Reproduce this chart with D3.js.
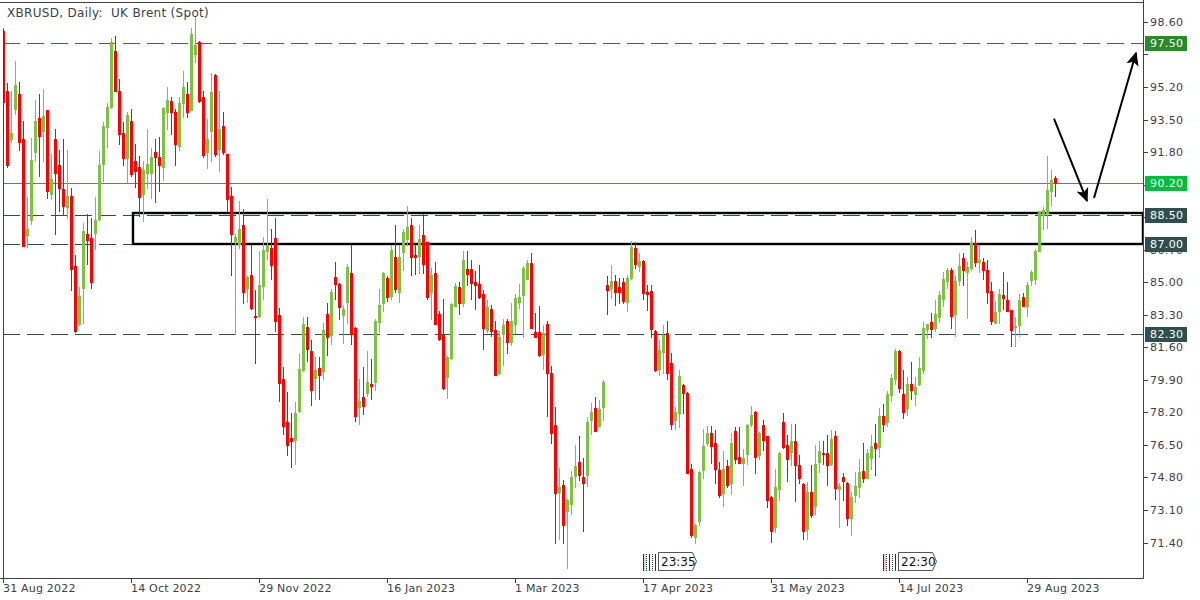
<!DOCTYPE html>
<html><head><meta charset="utf-8">
<script src="https://cdn.jsdelivr.net/npm/d3@7"></script>
<style>
html,body{margin:0;padding:0;background:#fff;}
svg{display:block;font-family:"DejaVu Sans",sans-serif;}
</style></head>
<body>
<svg id="c" width="1200" height="600"></svg>
<script>
// ---------- data ----------
const title = "XBRUSD, Daily:  UK Brent (Spot)";
const opens = [98.14,95.0,92.48,94.07,94.85,92.5,87.48,88.24,91.82,93.6,92.92,94.0,89.61,92.5,91.1,89.87,88.93,89.49,85.85,82.8,84.71,87.5,87.3,87.58,88.28,91.17,93.12,94.15,97.06,95.0,
92.82,91.48,93.4,91.32,91.0,89.63,90.69,90.69,91.8,91.54,91.0,93.9,94.47,93.9,92.12,94.35,94.81,93.99,96.9,97.56,94.67,91.82,92.92,95.85,91.96,93.18,91.72,89.53,87.14,86.98,
87.98,84.71,85.39,83.26,83.24,84.79,86.64,86.78,87.3,83.3,79.97,77.68,76.88,76.78,78.28,80.41,82.66,81.4,80.01,80.53,80.37,83.36,82.26,85.29,84.91,83.3,83.95,85.49,82.62,78.48,
79.03,79.23,79.67,79.77,82.9,83.9,85.21,84.29,86.3,84.51,86.58,87.24,87.98,86.44,86.38,87.48,87.1,84.49,85.49,83.36,82.26,80.03,81.03,83.76,84.75,83.92,85.69,85.69,84.99,84.91,
84.39,82.52,83.6,82.52,80.27,82.32,82.96,81.86,82.8,83.99,84.35,85.19,86.0,82.4,82.4,81.27,82.8,80.27,77.54,74.03,74.43,73.04,73.44,74.89,75.63,74.83,74.95,77.78,78.42,77.48,
78.48,84.85,84.71,85.05,84.75,84.99,83.99,85.21,86.78,85.85,86.1,84.51,84.55,82.46,80.47,81.37,82.36,80.77,77.78,78.18,79.61,79.21,75.23,71.7,72.5,75.19,76.58,77.12,76.58,75.19,
73.99,75.39,74.49,77.22,75.89,75.55,76.03,77.62,78.22,75.99,77.52,76.98,73.8,72.2,74.19,77.68,76.48,76.12,76.68,75.43,74.45,72.1,74.03,73.3,75.63,76.08,76.08,75.49,76.98,74.19,
74.83,74.49,72.7,73.9,74.29,75.13,74.79,75.83,76.58,76.38,78.02,77.68,79.11,79.97,81.4,79.17,78.42,79.67,79.17,79.67,80.41,82.56,82.9,82.6,83.16,84.15,85.05,85.65,83.32,85.11,
86.28,85.51,85.75,87.04,86.04,86.08,85.65,84.55,82.86,83.52,84.35,84.05,83.56,82.66,82.76,84.25,83.76,85.11,85.15,86.64,88.5,88.64,89.79,90.47];
const highs = [98.3,95.4,95.0,96.56,95.47,93.4,89.43,92.56,94.5,94.85,95.1,94.0,91.72,93.02,91.9,92.48,91.9,89.93,86.44,84.75,88.08,88.54,88.34,89.43,91.88,93.36,94.35,97.76,97.84,95.6,
93.38,93.9,94.07,92.24,91.62,91.36,93.02,92.02,92.48,92.58,94.15,95.2,94.67,94.07,94.67,96.05,95.47,98.26,98.93,97.6,95.0,93.52,95.95,95.9,94.97,93.9,91.72,89.97,87.5,89.23,
88.84,85.35,86.94,84.61,86.64,87.38,89.33,87.8,88.34,83.66,80.57,79.27,78.18,78.73,81.27,83.16,83.16,81.96,81.07,81.07,82.86,83.9,84.65,86.04,84.95,83.76,85.95,86.94,82.66,79.97,
80.57,81.4,80.97,83.06,84.65,85.51,85.35,86.94,87.98,86.94,87.78,88.97,88.38,86.94,87.98,88.58,87.1,85.75,86.08,83.52,84.15,81.17,83.9,84.95,84.99,86.64,86.64,86.14,85.59,85.91,
84.59,84.05,83.8,82.96,82.46,83.06,83.1,83.92,84.39,84.91,85.85,86.14,86.54,83.4,83.76,82.76,83.0,80.61,78.48,75.29,74.69,73.7,75.15,76.48,76.98,75.82,77.98,78.68,78.98,78.86,
79.87,85.31,85.89,85.39,85.23,85.21,85.39,87.14,87.1,86.54,86.18,84.85,84.85,82.52,81.96,82.76,82.96,81.32,78.48,80.41,79.67,79.27,75.49,72.36,75.15,77.32,77.48,77.48,77.28,75.59,
76.18,75.69,77.12,77.42,77.42,76.28,77.58,78.52,78.28,77.18,77.82,76.98,73.84,75.23,76.12,78.18,77.02,77.62,77.62,76.0,74.49,74.55,75.43,76.52,76.68,76.68,77.02,77.28,77.22,74.49,
75.03,74.55,74.03,75.09,75.79,76.62,76.28,77.02,77.58,78.42,78.62,79.33,80.21,81.52,81.46,80.41,80.07,80.81,80.07,81.07,82.92,82.84,83.4,84.05,84.55,85.51,85.75,85.75,85.35,86.54,
86.54,86.08,87.38,87.74,86.94,86.28,86.18,84.99,84.0,84.65,85.51,84.99,83.56,83.2,84.39,84.45,84.99,85.65,86.74,88.74,88.94,91.6,90.87,90.57];
const lows = [94.41,91.0,92.32,93.8,91.92,86.9,86.84,88.04,91.32,90.53,91.36,89.4,89.33,87.54,88.73,88.5,88.34,84.61,82.42,82.76,82.86,85.95,84.71,86.74,88.2,90.29,92.06,94.11,94.97,92.22,
91.13,90.23,90.57,89.97,88.44,88.18,89.93,89.41,89.19,89.77,90.33,93.02,92.76,91.13,91.92,93.62,93.62,93.99,96.5,94.41,91.56,90.97,91.32,91.62,90.83,91.72,88.74,85.39,82.3,86.8,
83.89,83.95,83.6,80.77,83.16,84.15,86.24,85.15,82.46,78.77,77.08,75.95,75.35,75.49,78.22,80.37,80.87,78.58,78.88,78.88,79.97,81.2,81.76,84.15,83.06,81.8,82.86,81.76,77.74,77.58,
78.12,79.07,78.88,79.37,82.4,83.5,84.0,84.11,84.51,83.95,85.65,86.94,85.39,85.45,85.5,85.5,84.11,83.06,82.8,82.0,79.41,78.97,81.0,83.76,83.36,83.76,84.85,84.15,83.6,84.2,
81.52,82.4,82.2,80.17,80.21,80.67,81.32,81.72,82.36,83.66,82.12,85.19,82.6,82.16,81.13,80.47,78.02,76.62,71.4,71.6,71.36,70.05,72.9,74.29,74.69,72.0,74.35,77.08,77.22,77.48,
77.78,83.36,84.19,83.8,83.9,83.92,83.52,85.15,85.75,85.59,84.11,83.56,82.16,80.37,80.17,80.27,79.97,77.34,77.32,77.42,78.18,75.03,71.7,71.36,72.3,74.79,76.48,75.55,74.53,73.8,
73.3,74.29,73.96,75.55,75.55,74.39,75.49,77.48,75.03,75.79,76.22,73.24,71.44,71.96,73.6,76.32,74.63,75.43,73.56,74.49,71.6,71.6,72.76,72.9,75.09,75.53,74.41,75.43,73.7,72.2,
73.6,72.3,71.8,73.5,73.8,74.55,74.79,75.23,74.95,75.89,77.22,77.48,78.82,79.67,79.27,77.92,78.08,78.92,78.58,79.61,80.27,82.1,82.16,82.46,82.9,83.76,84.71,82.6,82.2,84.85,
84.85,83.12,85.65,85.85,85.51,85.15,83.92,82.8,82.86,82.86,83.6,83.52,81.66,81.66,82.2,83.76,83.26,84.85,84.9,86.64,87.78,87.84,89.03,89.53];
const closes = [94.41,91.1,92.82,95.31,92.32,86.92,87.78,91.4,93.4,92.62,93.68,89.77,90.37,90.7,89.93,88.97,89.49,85.69,82.46,84.29,87.66,87.2,85.01,88.24,91.15,93.16,94.17,97.56,94.97,92.76,
91.5,93.72,90.63,90.83,89.43,90.87,91.17,91.56,91.56,91.13,94.11,94.5,93.9,92.2,94.35,95.2,93.9,97.99,97.4,94.47,91.64,92.48,94.95,91.72,92.99,91.82,89.37,87.5,87.34,87.78,
84.51,85.29,83.66,83.16,84.85,86.7,86.94,85.89,83.0,79.71,77.48,76.52,76.72,78.18,80.47,82.8,81.5,79.37,80.43,80.13,82.52,82.16,84.49,84.91,83.7,83.6,85.79,82.32,78.02,78.82,
78.52,79.81,79.57,83.0,83.8,85.49,84.25,86.68,84.65,86.3,87.64,87.9,86.3,86.3,87.24,85.95,84.25,85.39,82.8,82.06,79.47,81.07,83.86,84.81,83.92,86.14,85.45,84.95,84.85,84.25,
82.6,83.72,82.46,80.17,82.16,82.76,81.86,82.96,84.19,84.25,85.75,86.0,82.6,82.16,81.2,82.36,80.27,77.12,74.0,74.29,72.3,73.64,74.83,75.39,74.95,74.49,77.68,78.22,77.22,78.38,
79.77,84.61,85.09,84.51,84.51,84.0,85.21,86.84,85.95,86.1,84.45,84.39,82.56,80.41,81.47,82.26,80.27,77.62,78.22,80.11,79.21,75.03,71.8,72.34,75.09,76.42,77.12,76.42,75.23,73.9,
75.23,74.39,76.58,75.79,75.55,75.83,77.52,78.08,75.85,77.12,76.78,73.64,72.0,74.29,76.08,76.38,75.79,76.68,75.43,74.79,72.0,74.03,72.84,75.53,76.18,76.02,75.43,76.82,74.23,74.33,
74.59,72.7,73.76,74.35,75.09,74.75,76.08,76.42,76.34,78.02,77.62,79.17,80.01,81.4,79.47,78.22,79.67,79.37,79.51,80.53,82.6,82.8,82.56,83.32,84.31,85.19,85.65,83.26,85.05,85.85,
85.65,85.79,87.04,86.04,86.18,85.65,84.51,82.96,83.46,84.41,84.19,83.52,82.52,82.72,84.05,83.76,84.85,85.51,86.64,88.7,88.78,89.81,90.33,90.2];

const dateTicks = [0,32,64,96,128,160,192,224,256];
const dateLabels = ["31 Aug 2022","14 Oct 2022","29 Nov 2022","16 Jan 2023","1 Mar 2023","17 Apr 2023","31 May 2023","14 Jul 2023","29 Aug 2023"];
const priceTicks = [98.60,96.90,95.20,93.50,91.80,90.10,88.40,86.70,85.00,83.30,81.60,79.90,78.20,76.50,74.80,73.10,71.40];
// horizontal levels: price, kind
const levelPrices = [97.50, 90.20, 88.50, 87.00, 82.30];
const levelKinds  = ["dashGreen","solidGreen","dashDark","dashDark","dashDark"];
// zone rectangle: [startBar, topPrice, bottomPrice]
const zone = [32.5, 88.64, 86.98];
// arrows: [barFrom, priceFrom, barTo, priceTo]
const arrows = [[262.75, 93.55, 271.0, 89.25],[272.75, 89.4, 283.25, 96.98]];
// session markers
const markerBars = [160, 220];
const markerTexts = ["23:35","22:30"];
const markerFills = ["#b9e8ee","#f6c4cc"];

// ---------- layout ----------
const svg = d3.select("#c");
const L = 3, R = 1143, T = 2, B = 578;
const x = d3.scaleLinear().domain([0, 285]).range([L, R]);
const y = d3.scaleLinear().domain([71.40, 98.60]).range([542.55, 21.95]);
const GREEN = "#7ec242", RED = "#ff0000", AX = "#3d4144";

const defs = svg.append("defs");
defs.append("clipPath").attr("id","plot").append("rect").attr("x",L+0.5).attr("y",T).attr("width",R-L-0.5).attr("height",B-T);
defs.append("clipPath").attr("id","lowhalf").append("rect").attr("x",1140).attr("y",252).attr("width",60).attr("height",20);
defs.append("marker").attr("id","ah").attr("viewBox","0 0 10 10").attr("refX",9).attr("refY",5)
  .attr("markerWidth",7).attr("markerHeight",7).attr("markerUnits","strokeWidth").attr("orient","auto")
  .append("path").attr("d","M0,0.5 L10,5 L0,9.5 L2.5,5 Z").attr("fill","#000");

const plot = svg.append("g").attr("clip-path","url(#plot)");

// levels
const levelColor = {dashGreen:"#138a13", solidGreen:"#00c020", dashDark:"#2f4f4f"};
levelPrices.forEach((p,i)=>{
  const k = levelKinds[i];
  const yy = Math.round(y(p))+0.5;
  plot.append("line").attr("x1",L).attr("x2",R).attr("y1",yy).attr("y2",yy)
    .attr("stroke",levelColor[k]).attr("stroke-width",1.2)
    .attr("stroke-dasharray", k==="solidGreen" ? null : "17,7")
    .attr("shape-rendering","crispEdges");
});

// zone rectangle
plot.append("rect").attr("x",Math.round(x(zone[0]))).attr("y",Math.round(y(zone[1])))
  .attr("width",R-Math.round(x(zone[0]))).attr("height",Math.round(y(zone[2]))-Math.round(y(zone[1])))
  .attr("fill","none").attr("stroke","#000").attr("stroke-width",2.4);

// candles
const idx = d3.range(opens.length);
const cg = plot.append("g").attr("shape-rendering","crispEdges");
cg.selectAll("line.w").data(idx).join("line").attr("class","w")
  .attr("x1",i=>Math.round(x(i))+0.5).attr("x2",i=>Math.round(x(i))+0.5)
  .attr("y1",i=>Math.round(y(Math.max(highs[i],opens[i],closes[i]))))
  .attr("y2",i=>Math.round(y(Math.min(lows[i],opens[i],closes[i])))+1)
  .attr("stroke",i=>closes[i]>=opens[i]?GREEN:RED).attr("stroke-width",1);
cg.selectAll("rect.b").data(idx).join("rect").attr("class","b")
  .attr("x",i=>Math.round(x(i))-1).attr("width",3)
  .attr("y",i=>Math.round(y(Math.max(opens[i],closes[i]))))
  .attr("height",i=>Math.max(1,Math.round(y(Math.min(opens[i],closes[i])))-Math.round(y(Math.max(opens[i],closes[i])))+1))
  .attr("fill",i=>closes[i]>=opens[i]?GREEN:RED);

// arrows
arrows.forEach(a=>{
  plot.append("line").attr("x1",x(a[0])).attr("y1",y(a[1])).attr("x2",x(a[2])).attr("y2",y(a[3]))
    .attr("stroke","#000").attr("stroke-width",2).attr("marker-end","url(#ah)");
});

// frame
const fr = svg.append("g").attr("stroke",AX).attr("stroke-width",1).attr("shape-rendering","crispEdges");
fr.append("line").attr("x1",0).attr("x2",R+0.5).attr("y1",T+0.5).attr("y2",T+0.5);
fr.append("line").attr("x1",0).attr("x2",R+0.5).attr("y1",B+0.5).attr("y2",B+0.5);
fr.append("line").attr("x1",R+0.5).attr("x2",R+0.5).attr("y1",0).attr("y2",B+0.5);
fr.append("line").attr("x1",L+0.5).attr("x2",L+0.5).attr("y1",29).attr("y2",B+0.5);

// right axis
const ra = svg.append("g");
const hiddenUnder = levelPrices.map(p=>Math.round(y(p)));
priceTicks.forEach(p=>{
  const yy = Math.round(y(p))+0.5;
  ra.append("line").attr("x1",R).attr("x2",R+5).attr("y1",yy).attr("y2",yy).attr("stroke",AX).attr("shape-rendering","crispEdges");
  const covered = hiddenUnder.some(h=>Math.abs(h-yy)<5);
  if(covered) return;
  const partly = hiddenUnder.some(h=>Math.abs(h-yy)<13);
  const t = ra.append("text").attr("x",1150).attr("y",yy).attr("dy","0.36em").attr("font-size",11).attr("letter-spacing","0.4px")
    .attr("fill",AX).text(p.toFixed(2));
  if(partly) t.attr("clip-path","url(#lowhalf)");
});
const boxColor = {dashGreen:"#2a8a2a", solidGreen:"#00be3c", dashDark:"#2f4f4f"};
levelPrices.forEach((p,i)=>{
  const yy = Math.round(y(p));
  ra.append("rect").attr("x",1145).attr("y",yy-7).attr("width",42).attr("height",15).attr("fill",boxColor[levelKinds[i]]);
  ra.append("text").attr("x",1150).attr("y",yy+0.5).attr("dy","0.36em").attr("font-size",11).attr("letter-spacing","0.4px")
    .attr("fill","#fff").text(p.toFixed(2));
});

// bottom axis
const ba = svg.append("g");
dateTicks.forEach((t,i)=>{
  const xx = Math.round(x(t))+0.5;
  ba.append("line").attr("x1",xx).attr("x2",xx).attr("y1",B).attr("y2",B+5).attr("stroke",AX).attr("shape-rendering","crispEdges");
  ba.append("text").attr("x",xx-0.5).attr("y",592).attr("font-size",11).attr("letter-spacing","0.2px").attr("fill",AX).text(dateLabels[i]);
});

// session markers
markerBars.forEach((b,i)=>{
  const x0 = Math.round(x(b));
  const g = svg.append("g").attr("shape-rendering","crispEdges");
  g.append("rect").attr("x",x0).attr("y",554).attr("width",3).attr("height",17).attr("fill",markerFills[i]);
  for(let k=0;k<6;k++){
    g.append("line").attr("x1",x0+0.5+k*3).attr("x2",x0+0.5+k*3).attr("y1",554).attr("y2",571)
      .attr("stroke","#333").attr("stroke-width",1).attr("stroke-dasharray", k%2? "1,1":null);
  }
  const tx = x0+15;
  g.append("path").attr("d",`M${tx+0.5},552.5 H${tx+34.5} L${tx+38.5},561.5 L${tx+34.5},570.5 H${tx+0.5} Z`)
    .attr("fill","#fff").attr("stroke","#555").attr("shape-rendering","auto");
  svg.append("text").attr("x",tx+3).attr("y",566).attr("font-size",12).attr("fill","#111").text(markerTexts[i]);
});

// title
svg.append("text").attr("x",7).attr("y",17).attr("font-size",12).attr("letter-spacing","0.3px")
  .attr("fill",AX).style("white-space","pre").text(title);
</script>
</body></html>
